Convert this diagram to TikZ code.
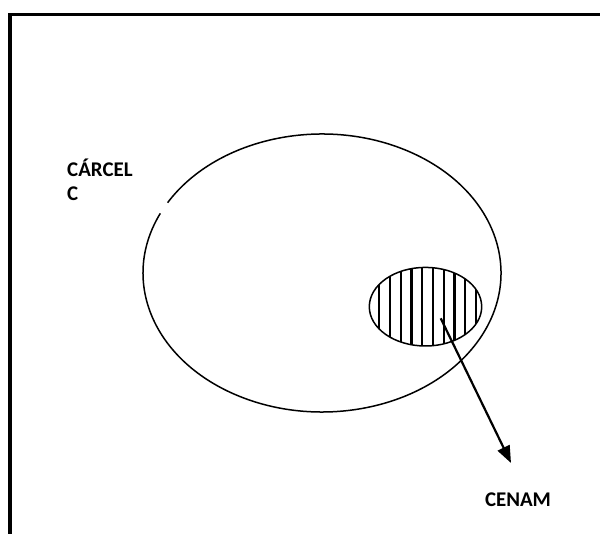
\documentclass[tikz,border=0pt]{standalone}
\usepackage{fontspec}
\setmainfont{Carlito}
\usetikzlibrary{arrows.meta,shapes.geometric}
\begin{document}
\begin{tikzpicture}[x=1pt,y=-1pt,
  lbl/.style={inner sep=0pt,font=\fontsize{20.9}{24}\selectfont\bfseries},
  outline/.style={line width=1.5pt},
  stripe/.style={line width=2.2pt},
  frameline/.style={line width=3.8pt},
  pointer/.style={line width=2.2pt,-{Triangle[length=17pt,width=13pt]}}]
\useasboundingbox (0,0) rectangle (600,534);
% frame
\draw[frameline] (10,540) -- (10,14.5) -- (606,14.5);
% large ellipse with small gap
\draw[outline] (322,273) ++(210.4:179 and 139)
  arc[start angle=210.4,end angle=565.4,x radius=179,y radius=139];
% small hatched ellipse
\begin{scope}
\clip (425.5,306.7) ellipse [x radius=56.2,y radius=39.3];
\foreach \i in {0,...,9}{
  \draw[stripe] (379.3+10.75*\i,260) -- (379.3+10.75*\i,350);
}
\end{scope}
\node[draw,outline,ellipse,minimum width=112.4pt,minimum height=78.6pt,inner sep=0pt] (cenamell) at (425.5,306.7) {};
% labels
\node[lbl,anchor=base west,align=left] (carcel) at (67,201) {CÁRCEL\\C};
\node[lbl,anchor=base] (cenam) at (518,506) {CENAM};
% arrow
\coordinate (as) at (440.7,318.3);
\coordinate (at) at (511,463);
\draw[pointer] (as) -- (at);
\end{tikzpicture}
\end{document}
